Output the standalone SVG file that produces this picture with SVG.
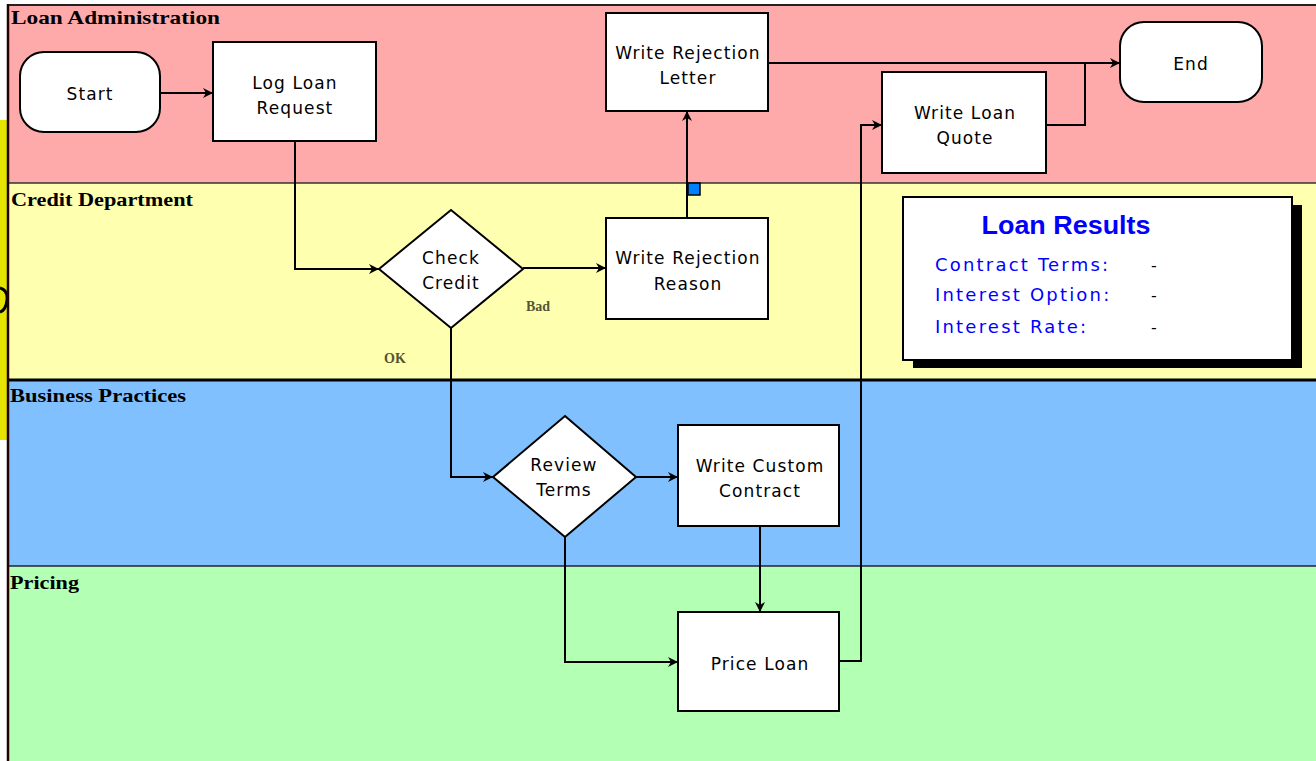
<svg xmlns="http://www.w3.org/2000/svg" width="1316" height="761" viewBox="0 0 1316 761">
<style>
.lane-label{font-family:"Liberation Serif","DejaVu Serif",serif;font-weight:bold;font-size:19px;fill:#000}
.box{fill:#fff;stroke:#000;stroke-width:2}
.t{font-family:"DejaVu Sans","Liberation Sans",sans-serif;font-size:17px;letter-spacing:1.1px;fill:#000;text-anchor:middle}
.conn{fill:none;stroke:#000;stroke-width:2}
.cond{font-family:"Liberation Serif",serif;font-weight:bold;font-size:14px;fill:#555533}
.res{font-family:"DejaVu Sans","Liberation Sans",sans-serif;font-size:18px;letter-spacing:2.2px;fill:#0000ff}
.dash{font-family:"DejaVu Sans",sans-serif;font-size:16px;fill:#000}
</style>
<defs>
<marker id="arr" viewBox="0 0 10 10" refX="10" refY="5" markerWidth="10" markerHeight="10" markerUnits="userSpaceOnUse" orient="auto">
<path d="M0,0 L10,5 L0,10 L3,5 Z" fill="#000"/>
</marker>
</defs>
<rect x="0" y="0" width="1316" height="761" fill="#fff"/>
<g id="decoration">
<rect x="0" y="120" width="8" height="320" fill="#e4e400"/>
<path d="M0,288 Q8,290 7,300 Q6,310 0,312" fill="none" stroke="#000" stroke-width="3"/>
</g>
<g id="lanes">
<rect x="8" y="5" width="1308" height="178" fill="#ffaaaa"/>
<rect x="8" y="183" width="1308" height="197" fill="#ffffb0"/>
<rect x="8" y="380" width="1308" height="186" fill="#80c0ff"/>
<rect x="8" y="566" width="1308" height="195" fill="#b3ffb3"/>
<line x1="8" y1="5" x2="1316" y2="5" stroke="#222" stroke-width="2"/>
<line x1="8" y1="183" x2="1316" y2="183" stroke="#333" stroke-width="1.5"/>
<line x1="8" y1="380" x2="1316" y2="380" stroke="#000" stroke-width="3"/>
<line x1="8" y1="566" x2="1316" y2="566" stroke="#223" stroke-width="1.5"/>
<line x1="8" y1="4" x2="8" y2="761" stroke="#200" stroke-width="2.5"/>
<text class="lane-label" x="11" y="24" textLength="209" lengthAdjust="spacingAndGlyphs">Loan Administration</text>
<text class="lane-label" x="11" y="206" textLength="182" lengthAdjust="spacingAndGlyphs">Credit Department</text>
<text class="lane-label" x="10" y="402" textLength="176" lengthAdjust="spacingAndGlyphs">Business Practices</text>
<text class="lane-label" x="10" y="589" textLength="69" lengthAdjust="spacingAndGlyphs">Pricing</text>
</g>
<g id="connectors">
<path class="conn" d="M160,93 H213" marker-end="url(#arr)"/>
<path class="conn" d="M295,141 V269 H379" marker-end="url(#arr)"/>
<path class="conn" d="M523,268 H606" marker-end="url(#arr)"/>
<path class="conn" d="M451,328 V477 H493" marker-end="url(#arr)"/>
<path class="conn" d="M687,218 V111" marker-end="url(#arr)"/>
<path class="conn" d="M768,63 H1120" marker-end="url(#arr)"/>
<path class="conn" d="M1046,125 H1085 V63"/>
<path class="conn" d="M636,477 H678" marker-end="url(#arr)"/>
<path class="conn" d="M565,537 V662 H678" marker-end="url(#arr)"/>
<path class="conn" d="M760,526 V612" marker-end="url(#arr)"/>
<path class="conn" d="M839,661 H861 V125 H882" marker-end="url(#arr)"/>
<rect x="688" y="183" width="12" height="12" fill="#0080ff" stroke="#000" stroke-width="1.5"/>
<text class="cond" x="526" y="311">Bad</text>
<text class="cond" x="384" y="363">OK</text>
</g>
<g id="start">
<rect class="box" x="20" y="52" width="140" height="80" rx="24"/>
<text class="t" x="90" y="100">Start</text>
</g>
<g id="log-loan-request">
<rect class="box" x="213" y="42" width="163" height="99"/>
<text class="t" x="295" y="89">Log Loan</text>
<text class="t" x="295" y="114">Request</text>
</g>
<g id="write-rejection-letter">
<rect class="box" x="606" y="13" width="162" height="98"/>
<text class="t" x="688" y="59">Write Rejection</text>
<text class="t" x="688" y="84">Letter</text>
</g>
<g id="end">
<rect class="box" x="1120" y="22" width="142" height="80" rx="24"/>
<text class="t" x="1191" y="70">End</text>
</g>
<g id="write-loan-quote">
<rect class="box" x="882" y="72" width="164" height="101"/>
<text class="t" x="965" y="119">Write Loan</text>
<text class="t" x="965" y="144">Quote</text>
</g>
<g id="check-credit">
<polygon class="box" points="451,210 523,269 451,328 379,269"/>
<text class="t" x="451" y="264">Check</text>
<text class="t" x="451" y="289">Credit</text>
</g>
<g id="write-rejection-reason">
<rect class="box" x="606" y="218" width="162" height="101"/>
<text class="t" x="688" y="264">Write Rejection</text>
<text class="t" x="688" y="290">Reason</text>
</g>
<g id="loan-results">
<rect x="913" y="205" width="389" height="163" fill="#000"/>
<rect x="903" y="197" width="389" height="163" fill="#fff" stroke="#000" stroke-width="2"/>
<text x="1066" y="234" text-anchor="middle" font-family="Liberation Sans, Arial, sans-serif" font-weight="bold" font-size="26" fill="#0000ff" textLength="169" lengthAdjust="spacingAndGlyphs">Loan Results</text>
<text class="res" x="935" y="271">Contract Terms:</text>
<text class="res" x="935" y="301">Interest Option:</text>
<text class="res" x="935" y="333">Interest Rate:</text>
<text class="dash" x="1151" y="271">-</text>
<text class="dash" x="1151" y="301">-</text>
<text class="dash" x="1151" y="333">-</text>
</g>
<g id="review-terms">
<polygon class="box" points="565,416 636,477 565,537 493,477"/>
<text class="t" x="564" y="471">Review</text>
<text class="t" x="564" y="496">Terms</text>
</g>
<g id="write-custom-contract">
<rect class="box" x="678" y="425" width="161" height="101"/>
<text class="t" x="760" y="472">Write Custom</text>
<text class="t" x="760" y="497">Contract</text>
</g>
<g id="price-loan">
<rect class="box" x="678" y="612" width="161" height="99"/>
<text class="t" x="760" y="670">Price Loan</text>
</g>
</svg>
